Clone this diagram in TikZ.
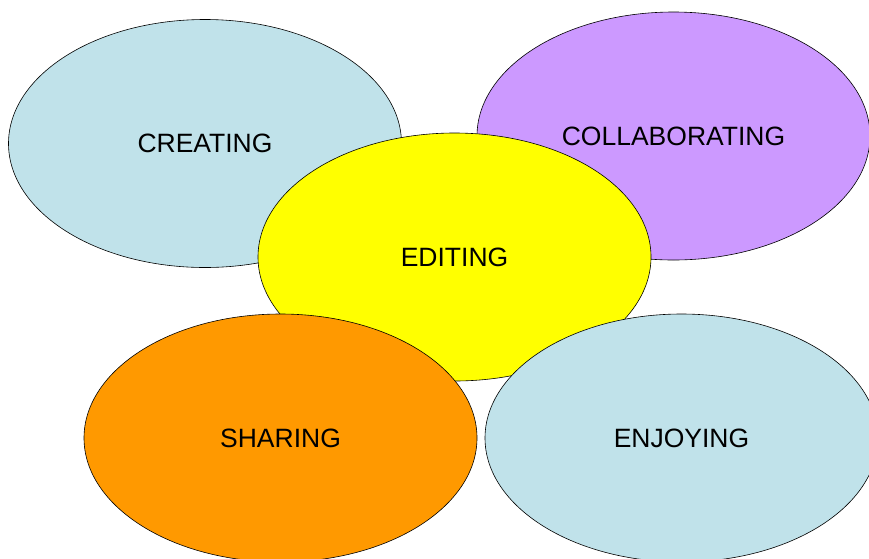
\documentclass[tikz,border=0pt]{standalone}
\usepackage{fontspec}
\setmainfont{Liberation Sans}
\usetikzlibrary{shapes.geometric}
\definecolor{lblue}{HTML}{C0E2EA}
\definecolor{lpurple}{HTML}{CC99FF}
\definecolor{lyellow}{HTML}{FFFF00}
\definecolor{lorange}{HTML}{FF9900}
\begin{document}
\begin{tikzpicture}[x=1pt,y=-1pt,
  blob/.style={ellipse, draw=black, line width=0.6pt, minimum width=393pt, minimum height=248pt, inner sep=0pt,
    font=\fontsize{26.5}{30}\selectfont, text=black}]
\useasboundingbox (0,0) rectangle (869,558);
\node[blob, fill=lblue] (creating) at (205,143.5) {CREATING};
\node[blob, fill=lpurple] (collab) at (673.5,136) {COLLABORATING};
\node[blob, fill=lyellow] (editing) at (454.5,257) {EDITING};
\node[blob, fill=lorange] (sharing) at (280.5,438) {SHARING};
\node[blob, fill=lblue] (enjoying) at (681.5,438) {ENJOYING};
\end{tikzpicture}
\end{document}
